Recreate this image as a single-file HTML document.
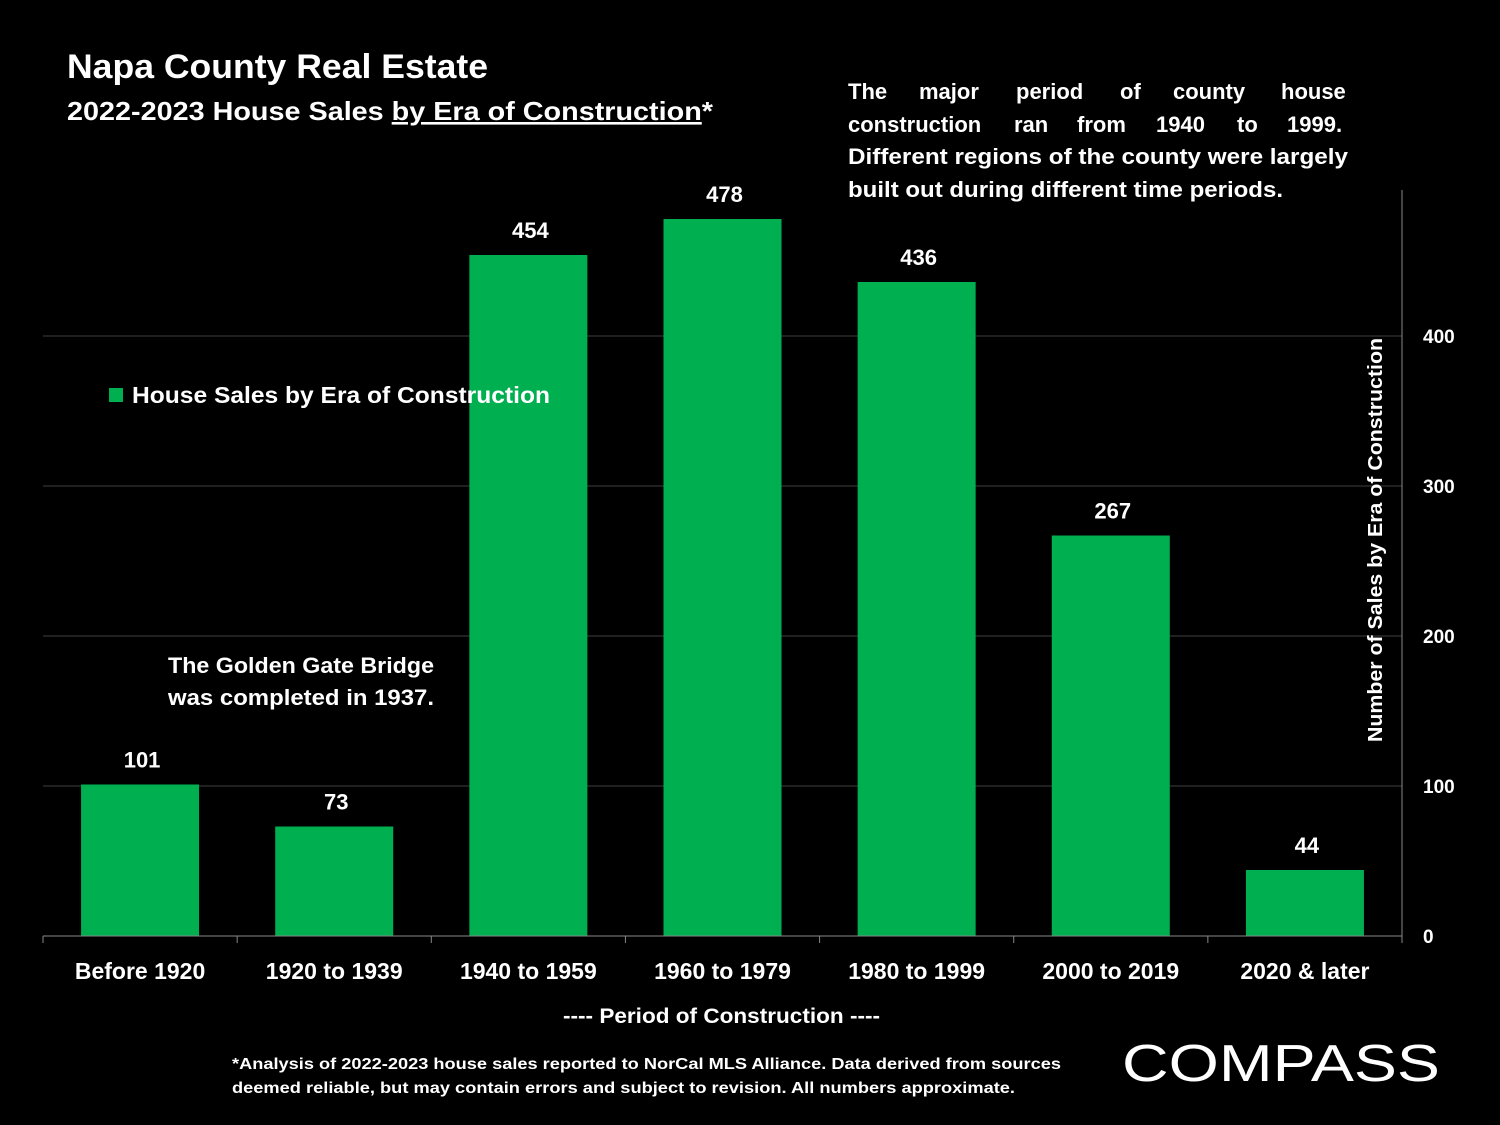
<!DOCTYPE html>
<html><head><meta charset="utf-8">
<style>
body{margin:0;background:#000;width:1500px;height:1125px;overflow:hidden;font-family:"Liberation Sans",sans-serif;color:#fff}
svg{display:block}
text{font-family:"Liberation Sans",sans-serif;fill:#fff}
</style></head>
<body>
<svg id="chart" width="1500" height="1125">
<text x="67" y="78" font-size="34" font-weight="bold" textLength="421" lengthAdjust="spacingAndGlyphs">Napa County Real Estate</text>
<text x="67" y="120" font-size="26" font-weight="bold" textLength="646" lengthAdjust="spacingAndGlyphs">2022-2023 House Sales <tspan text-decoration="underline">by Era of Construction</tspan>*</text>
<g font-size="22" font-weight="bold">
<text y="99"><tspan x="848">The</tspan><tspan x="919">major</tspan><tspan x="1016">period</tspan><tspan x="1120">of</tspan><tspan x="1173">county</tspan><tspan x="1281">house</tspan></text>
<text y="132"><tspan x="848">construction</tspan><tspan x="1014">ran</tspan><tspan x="1077">from</tspan><tspan x="1156">1940</tspan><tspan x="1237">to</tspan><tspan x="1287">1999.</tspan></text>
<text x="848" y="164" textLength="500" lengthAdjust="spacingAndGlyphs">Different regions of the county were largely</text>
<text x="848" y="197" textLength="435" lengthAdjust="spacingAndGlyphs">built out during different time periods.</text>
</g>
<g font-size="22" font-weight="bold">
<text x="168" y="673" textLength="266" lengthAdjust="spacingAndGlyphs">The Golden Gate Bridge</text>
<text x="168" y="705" textLength="266" lengthAdjust="spacingAndGlyphs">was completed in 1937.</text>
</g>
<g id="grid"></g>
<g id="bars"></g>
<g id="axes"></g>
<g>
<rect x="109" y="388" width="14" height="14" fill="#00b050"/>
<text x="132" y="403" font-size="23" font-weight="bold" textLength="418" lengthAdjust="spacingAndGlyphs">House Sales by Era of Construction</text>
</g>
<text x="563" y="1023" font-size="21" font-weight="bold" textLength="317" lengthAdjust="spacingAndGlyphs">----  Period of Construction ----</text>
<text transform="translate(1382,540) rotate(-90)" x="-202" font-size="20" font-weight="bold" textLength="404" lengthAdjust="spacingAndGlyphs">Number of Sales by Era of Construction</text>
<g font-size="16" font-weight="bold">
<text x="232" y="1069" textLength="829" lengthAdjust="spacingAndGlyphs">*Analysis of 2022-2023 house sales reported to NorCal MLS Alliance.  Data derived from sources</text>
<text x="232" y="1093" textLength="783" lengthAdjust="spacingAndGlyphs">deemed reliable, but may contain errors and subject to revision. All numbers approximate.</text>
</g>
<text x="1122" y="1081" font-size="52" textLength="318" lengthAdjust="spacingAndGlyphs">COMPASS</text>
</svg>
<script>
const categories=["Before 1920","1920 to 1939","1940 to 1959","1960 to 1979","1980 to 1999","2000 to 2019","2020 & later"];
const values=[101,73,454,478,436,267,44];
const yTicks=[0,100,200,300,400];
const NS="http://www.w3.org/2000/svg";
const left=43,right=1402,base=936,scale=1.5;
const band=(right-left)/categories.length,barW=118;
const y=v=>base-v*scale;
const xc=i=>left+band*(i+0.5);
function mk(tag,attrs,parent){const e=document.createElementNS(NS,tag);for(const k in attrs)e.setAttribute(k,attrs[k]);document.getElementById(parent).appendChild(e);return e;}
yTicks.forEach(t=>{
 if(t>0){const g=mk('line',{x1:left,x2:right,y1:y(t),y2:y(t),stroke:'#404040','stroke-width':1},'grid');
 
 }
 const l=mk('text',{x:1423,y:y(t)+7,'font-size':19,'font-weight':'bold'},'axes');l.textContent=t;
 
 
});
values.forEach((v,i)=>{
 const r=mk('rect',{x:xc(i)-barW/2,y:y(v),width:barW,height:v*scale,fill:'#00b050'},'bars');
 
 
 const t=mk('text',{x:xc(i)+2,y:y(v)-17,'font-size':22,'font-weight':'bold','text-anchor':'middle'},'bars');t.textContent=v;
 
 
 const c=mk('text',{x:xc(i),y:979,'font-size':23,'font-weight':'bold','text-anchor':'middle'},'axes');c.textContent=categories[i];
 
 
});
for(let i=0;i<=categories.length;i++){const tk=mk('line',{x1:left+band*i,x2:left+band*i,y1:base,y2:base+7,stroke:'#888'},'axes');
 
 }
const xa=mk('line',{x1:left,x2:right,y1:base,y2:base,stroke:'#888'},'axes');


const ya=mk('line',{x1:right,x2:right,y1:190,y2:base,stroke:'#888'},'axes');


</script>
</body></html>
